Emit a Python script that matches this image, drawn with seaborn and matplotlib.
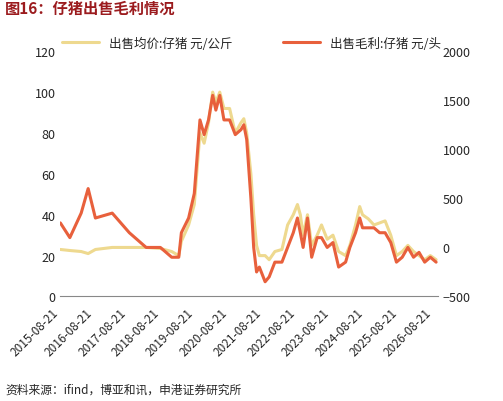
import matplotlib.pyplot as plt
import pandas as pd
import seaborn as sns

sns.set_style("white")
plt.rcParams["font.family"] = ["Noto Sans CJK SC", "DejaVu Sans"]

price_dates = ["2015-08-21", "2015-12-01", "2016-04-01", "2016-06-15", "2016-09-01", "2017-03-01",
               "2017-09-01", "2018-03-01", "2018-08-01", "2018-12-01", "2019-02-15", "2019-03-15",
               "2019-06-01", "2019-08-01", "2019-10-01", "2019-11-15", "2020-01-01", "2020-02-15",
               "2020-03-20", "2020-05-01", "2020-06-15", "2020-08-15", "2020-10-15", "2020-12-15",
               "2021-01-15", "2021-02-15", "2021-04-01", "2021-05-01", "2021-06-01", "2021-07-01",
               "2021-09-01", "2021-10-15", "2021-12-15", "2022-03-01", "2022-05-01", "2022-07-01",
               "2022-08-15", "2022-09-15", "2022-10-15", "2022-12-01", "2023-01-15", "2023-03-15",
               "2023-05-01", "2023-07-01", "2023-09-01", "2023-11-01", "2024-01-15", "2024-03-01",
               "2024-05-01", "2024-06-15", "2024-07-15", "2024-09-15", "2024-11-15", "2025-01-15",
               "2025-03-15", "2025-05-15", "2025-07-15", "2025-09-15", "2025-11-15", "2026-01-15",
               "2026-03-15", "2026-05-15", "2026-07-15", "2026-09-15"]
price = [23, 22.5, 22, 21, 23, 24, 24, 24, 23.5, 22, 20, 27, 35, 45, 80, 75, 85, 100,
         95, 100, 92, 92, 80, 85, 87, 80, 60, 40, 25, 20, 20, 18, 22, 23, 35, 40,
         45, 40, 30, 40, 25, 30, 35, 28, 30, 22, 20, 25, 35, 44, 40, 38, 35, 36,
         37, 30, 20, 22, 25, 22, 20, 18, 20, 18]

profit = [250, 100, 350, 600, 300, 350, 150, 0, 0, -100, -100, 150, 300, 550, 1300, 1150, 1300, 1550,
          1400, 1550, 1300, 1300, 1150, 1200, 1250, 1100, 500, 0, -250, -200, -350, -300, -150, -150,
          0, 150, 300, 150, 0, 300, -100, 100, 100, 0, 50, -200, -150, 0, 150, 300, 200, 200, 200,
          150, 150, 50, -150, -100, 0, -100, -50, -150, -100, -150]

price_label = "出售均价:仔猪 元/公斤"
profit_label = "出售毛利:仔猪 元/头"
tick_labels = [f"{y}-08-21" for y in range(2015, 2027)]

df = pd.DataFrame({"date": pd.to_datetime(price_dates), "price": price, "profit": profit})

fig, ax = plt.subplots(figsize=(5.03, 4.02), dpi=100)
ax2 = ax.twinx()
sns.lineplot(data=df, x="date", y="price", ax=ax, color="#EED98F", lw=2.2, label=price_label, legend=False)
sns.lineplot(data=df, x="date", y="profit", ax=ax2, color="#E8603C", lw=2.2, label=profit_label, legend=False)

ax.set_ylim(0, 120)
ax.set_yticks(range(0, 121, 20))
ax2.set_ylim(-500, 2000)
ax2.set_yticks(range(-500, 2001, 500))
ticks = pd.to_datetime(tick_labels)
ax.set_xticks(ticks)
ax.set_xticklabels(tick_labels, rotation=45, ha="right", fontsize=8.5)
ax.set_xlim(pd.Timestamp("2015-08-21"), pd.Timestamp("2026-10-01"))
for a in (ax, ax2):
    a.set_xlabel("")
    a.set_ylabel("")
    a.tick_params(labelsize=9, length=0)
    for s in a.spines.values():
        s.set_visible(False)
ax.spines["bottom"].set_visible(True)
ax.spines["bottom"].set_color("#888888")
ax.tick_params(axis="x", length=3, direction="out", color="#888888", labelsize=8.5)

h1, l1 = ax.get_legend_handles_labels()
h2, l2 = ax2.get_legend_handles_labels()
fig.legend(h1 + h2, l1 + l2, loc="upper center", bbox_to_anchor=(0.5, 0.935), ncol=2,
           frameon=False, fontsize=9, columnspacing=4, handlelength=3)

fig.text(0.01, 0.965, "图16：仔猪出售毛利情况", fontsize=11, fontweight="bold", color="#9B1B1E")
fig.text(0.01, 0.02, "资料来源：ifind，博亚和讯，申港证券研究所", fontsize=8.5, style="italic")
fig.subplots_adjust(left=0.12, right=0.87, top=0.87, bottom=0.26)
fig.savefig("out.png", dpi=100)
